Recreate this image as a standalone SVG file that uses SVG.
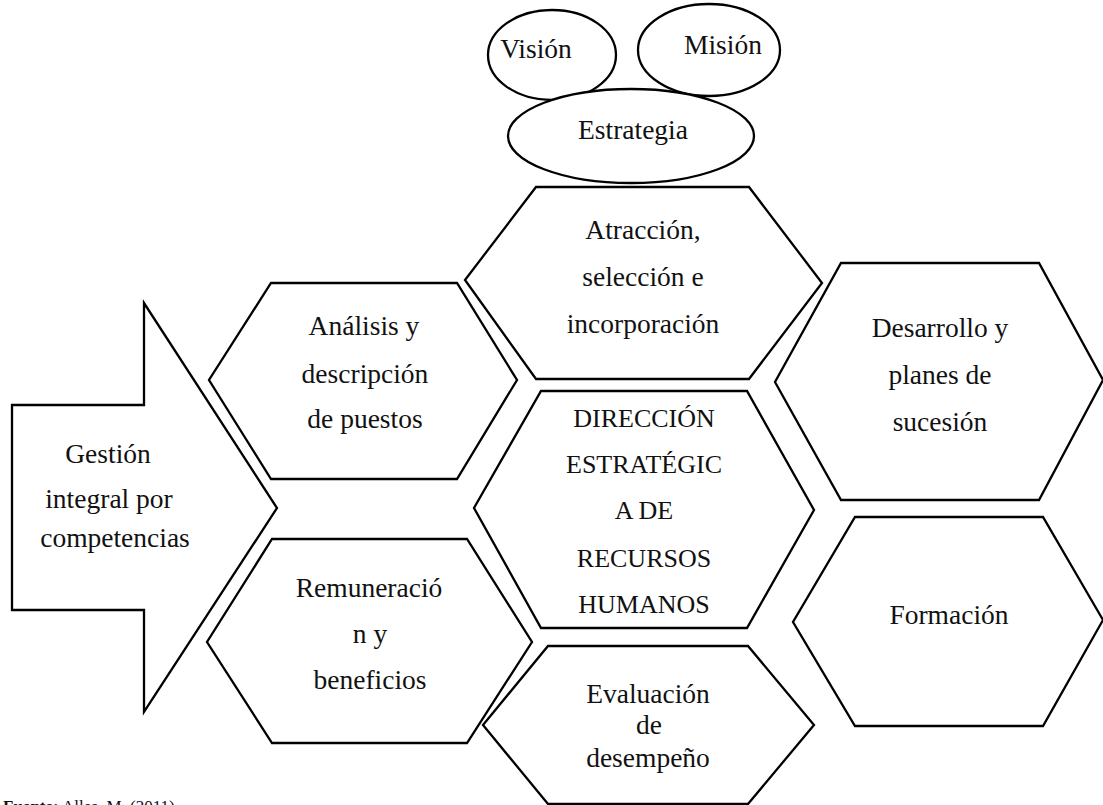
<svg xmlns="http://www.w3.org/2000/svg" width="1103" height="805" viewBox="0 0 1103 805">
  <style>
    .shape { fill: #ffffff; stroke: #000000; stroke-width: 2.3; stroke-linejoin: miter; }
    .lbl { font-family: "Liberation Serif", "Times New Roman", serif; font-size: 27.5px; fill: #111111; text-anchor: middle; }
    .caps { font-size: 26px; }
    .src { font-family: "Liberation Serif", "Times New Roman", serif; font-size: 17px; fill: #111111; }
  </style>
  <rect width="1103" height="805" fill="#ffffff"/>

  <!-- Vision / mission / strategy ellipses -->
  <g id="vision">
    <ellipse class="shape" cx="552" cy="55" rx="64" ry="45"/>
    <text class="lbl" x="536" y="58">Visión</text>
  </g>
  <g id="mision">
    <ellipse class="shape" cx="709" cy="50" rx="71" ry="46"/>
    <text class="lbl" x="723" y="54">Misión</text>
  </g>
  <g id="estrategia">
    <ellipse class="shape" cx="631" cy="136" rx="123" ry="47"/>
    <text class="lbl" x="633" y="139">Estrategia</text>
  </g>

  <!-- Competency-management arrow -->
  <g id="gestion">
    <polygon class="shape" points="12,405 144,405 144,303 277,508 144,712 144,610 12,610"/>
    <text class="lbl" x="108" y="463">Gestión</text>
    <text class="lbl" x="109" y="508">integral por</text>
    <text class="lbl" x="115" y="547">competencias</text>
  </g>

  <!-- Hexagon cells -->
  <g id="atraccion">
    <polygon class="shape" points="536,187 749,187 822,283 749,379 536,379 465,280"/>
    <text class="lbl" x="643" y="239">Atracción,</text>
    <text class="lbl" x="643" y="286">selección e</text>
    <text class="lbl" x="643" y="333">incorporación</text>
  </g>
  <g id="analisis">
    <polygon class="shape" points="271,283 457,283 517,380 457,479 271,479 209,380"/>
    <text class="lbl" x="364" y="335">Análisis y</text>
    <text class="lbl" x="365" y="383">descripción</text>
    <text class="lbl" x="365" y="428">de puestos</text>
  </g>
  <g id="direccion">
    <polygon class="shape" points="541,391 747,391 814,510 747,628 541,628 474,508"/>
    <text class="lbl caps" x="644" y="427">DIRECCIÓN</text>
    <text class="lbl caps" x="644" y="473">ESTRATÉGIC</text>
    <text class="lbl caps" x="644" y="519">A DE</text>
    <text class="lbl caps" x="644" y="567">RECURSOS</text>
    <text class="lbl caps" x="644" y="613">HUMANOS</text>
  </g>
  <g id="remuneracion">
    <polygon class="shape" points="272,539 467,539 532,642 467,743 272,743 207,642"/>
    <text class="lbl" x="369" y="597">Remuneració</text>
    <text class="lbl" x="370" y="643">n y</text>
    <text class="lbl" x="370" y="689">beneficios</text>
  </g>
  <g id="evaluacion">
    <polygon class="shape" points="548,646 748,646 814,725 748,804 548,804 483,725"/>
    <text class="lbl" x="648" y="703">Evaluación</text>
    <text class="lbl" x="649" y="734">de</text>
    <text class="lbl" x="648" y="767">desempeño</text>
  </g>
  <g id="desarrollo">
    <polygon class="shape" points="841,263 1039,263 1103,380 1039,500 841,500 775,382"/>
    <text class="lbl" x="940" y="337">Desarrollo y</text>
    <text class="lbl" x="940" y="384">planes de</text>
    <text class="lbl" x="940" y="431">sucesión</text>
  </g>
  <g id="formacion">
    <polygon class="shape" points="855,517 1043,517 1103,620 1043,726 855,726 793,622"/>
    <text class="lbl" x="949" y="624">Formación</text>
  </g>

  <!-- No connectors: the cells touch each other directly -->
  <g id="connectors"/>

  <!-- Source line -->
  <text class="src" x="3" y="812"><tspan font-weight="bold">Fuente:</tspan> Alles, M. (2011)</text>
</svg>
